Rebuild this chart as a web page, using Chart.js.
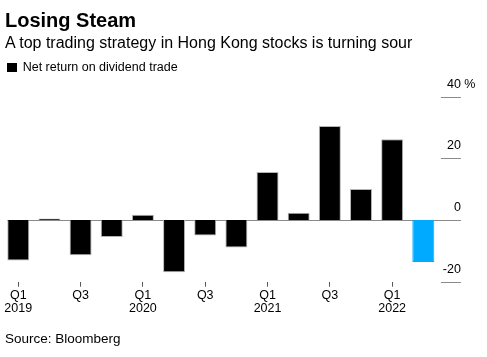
<!DOCTYPE html>
<html>
<head>
<meta charset="utf-8">
<script src="https://cdn.jsdelivr.net/npm/chart.js@4/dist/chart.umd.min.js"></script>
<style>
  html, body { margin: 0; padding: 0; background: #fff; }
  body { width: 487px; height: 357px; position: relative; overflow: hidden; font-family: "Liberation Sans", Arial, sans-serif; color: #000; }
  #wrap { position: absolute; left: 0; top: 0; width: 487px; height: 357px; }
  .t { position: absolute; white-space: nowrap; }
  #title { left: 5px; top: 9.8px; font-size: 20px; line-height: 20px; font-weight: bold; }
  #subtitle { left: 5px; top: 34.8px; font-size: 16px; line-height: 16px; }
  #legend { left: 22.7px; top: 61.1px; font-size: 12.5px; line-height: 12.5px; }
  #legbox { position: absolute; left: 7px; top: 63px; width: 9.5px; height: 9px; background: #000; }
  #source { left: 5px; top: 331.9px; font-size: 13.5px; line-height: 13.5px; }
</style>
</head>
<body>
<div id="wrap"><canvas id="c" width="487" height="357"></canvas></div>
<div class="t" id="title">Losing Steam</div>
<div class="t" id="subtitle">A top trading strategy in Hong Kong stocks is turning sour</div>
<div id="legbox"></div>
<div class="t" id="legend">Net return on dividend trade</div>
<div class="t" id="source">Source: Bloomberg</div>
<script>
const categories = ['Q1 2019','Q2 2019','Q3 2019','Q4 2019','Q1 2020','Q2 2020','Q3 2020','Q4 2020','Q1 2021','Q2 2021','Q3 2021','Q4 2021','Q1 2022','Q2 2022'];
const netReturn = [-13.1, 0.5, -11.4, -5.5, 1.7, -16.9, -5.0, -8.9, 15.6, 2.4, 30.5, 10.1, 26.2, -13.6];
const barColors = ['#000','#000','#000','#000','#000','#000','#000','#000','#000','#000','#000','#000','#000','#00aaff'];
const borderColors = ['#b4b4b4','#b4b4b4','#b4b4b4','#b4b4b4','#b4b4b4','#b4b4b4','#b4b4b4','#b4b4b4','#b4b4b4','#b4b4b4','#b4b4b4','#b4b4b4','#b4b4b4','#00aaff'];
const yTicks = [40, 20, 0, -20];
const yMin = -20, yMax = 40;

const FONT = '"Liberation Sans", Arial, sans-serif';

const axisPlugin = {
  id: 'bbgAxis',
  beforeDatasetsDraw(chart) {
    const ctx = chart.ctx;
    const y = chart.scales.y;
    const meta = chart.getDatasetMeta(0);
    const firstBar = meta.data[0];
    const left = firstBar.x - firstBar.width / 2;
    const tickL = chart.chartArea.right + 2;
    const tickR = chart.chartArea.right + 22;
    ctx.save();
    ctx.strokeStyle = '#8a8a8a';
    ctx.lineWidth = 1;
    const y0 = Math.round(y.getPixelForValue(0)) + 0.5;
    ctx.beginPath();
    ctx.moveTo(left, y0);
    ctx.lineTo(tickR, y0);
    ctx.stroke();
    yTicks.forEach(v => {
      const py = Math.round(y.getPixelForValue(v)) + 0.5;
      ctx.beginPath();
      ctx.moveTo(tickL, py);
      ctx.lineTo(tickR, py);
      ctx.stroke();
    });
    ctx.fillStyle = '#000';
    ctx.font = '12.5px ' + FONT;
    ctx.textBaseline = 'alphabetic';
    yTicks.forEach(v => {
      const py = y.getPixelForValue(v) - 9;
      ctx.textAlign = 'right';
      ctx.fillText(String(v), tickR, py);
      if (v === yMax) {
        ctx.textAlign = 'left';
        ctx.fillText(' %', tickR, py);
      }
    });
    ctx.restore();
  }
};

new Chart(document.getElementById('c'), {
  type: 'bar',
  data: {
    labels: categories,
    datasets: [{
      label: 'Net return on dividend trade',
      data: netReturn,
      backgroundColor: barColors,
      borderColor: borderColors,
      borderWidth: 1,
      categoryPercentage: 1.0,
      barPercentage: 0.706
    }]
  },
  options: {
    responsive: false,
    animation: false,
    devicePixelRatio: 1,
    layout: { padding: { left: 2.7, right: 48.1, top: 96.7, bottom: 35.3 } },
    plugins: { legend: { display: false }, tooltip: { enabled: false }, title: { display: false } },
    scales: {
      x: {
        offset: true,
        border: { display: false },
        grid: {
          drawOnChartArea: false,
          drawTicks: true,
          tickLength: 5,
          offset: false,
          color: c => (c.index % 2 === 0 ? '#555' : 'rgba(0,0,0,0)')
        },
        ticks: {
          autoSkip: false,
          maxRotation: 0,
          padding: 3,
          color: '#000',
          font: { family: FONT, size: 12.5, lineHeight: 1 },
          callback: function (val, i) {
            if (i % 2 !== 0) return '';
            const parts = categories[i].split(' ');
            return parts[0] === 'Q1' ? [parts[0], parts[1]] : [parts[0]];
          }
        },
        afterFit: s => { s.height = 40; }
      },
      y: {
        display: false,
        min: yMin,
        max: yMax
      }
    }
  },
  plugins: [axisPlugin]
});
</script>
</body>
</html>
